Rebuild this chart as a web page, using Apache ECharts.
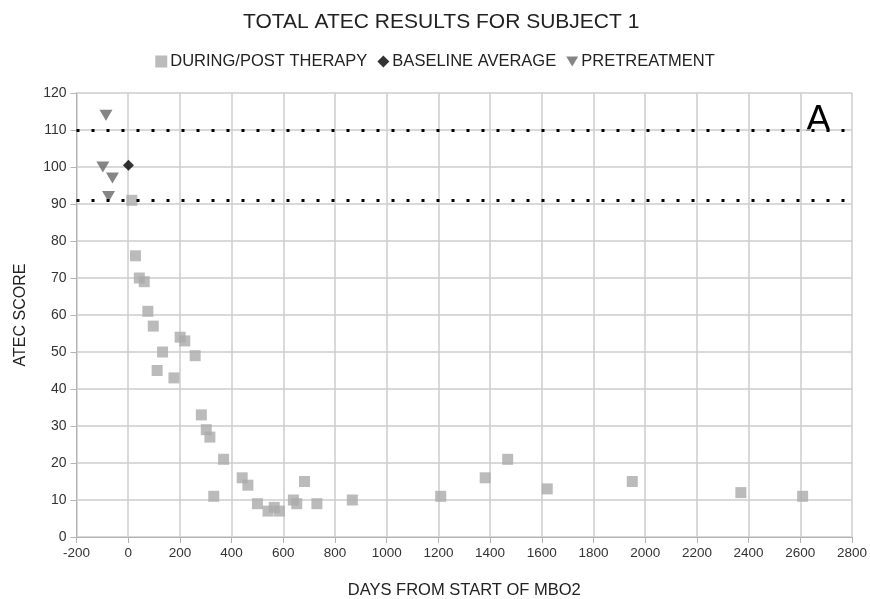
<!DOCTYPE html>
<html>
<head>
<meta charset="utf-8">
<script src="https://cdn.jsdelivr.net/npm/echarts@6/dist/echarts.min.js"></script>
<style>
  html, body { margin: 0; padding: 0; background: #fff; }
  #chart { width: 870px; height: 599px; }
</style>
</head>
<body>
<div id="chart"></div>
<script>
// Days from start of MBO2 and total ATEC score for each assessment
const therapyDays   = [14, 28, 43, 62, 76, 97, 112, 133, 177, 201, 219, 259, 283, 302, 316, 331, 369, 441, 463, 500, 541, 565, 585, 639, 652, 682, 730, 867, 1209, 1381, 1468, 1621, 1950, 2370, 2609];
const therapyScores = [91, 76, 70, 69, 61, 57, 45, 50, 43, 54, 53, 49, 33, 29, 27, 11, 21, 16, 14, 9, 7, 8, 7, 10, 9, 15, 9, 10, 11, 16, 21, 13, 15, 12, 11];

const baselineDays   = [1];
const baselineScores = [100.5];

const pretreatDays   = [-86, -98, -61, -76];
const pretreatScores = [114, 100, 97, 92];

// Dotted reference levels
const referenceLevels = [110, 91];

const xTicks = { min: -200, max: 2800, interval: 200 };
const yTicks = { min: 0, max: 120, interval: 10 };

const pairs = (xs, ys) => xs.map((x, i) => [x, ys[i]]);

const chart = echarts.init(document.getElementById('chart'));
const fontFamily = '"Liberation Sans", Arial, sans-serif';
const downTriangle = 'path://M0,0L12,0L6,10Z';

chart.setOption({
  backgroundColor: '#ffffff',
  textStyle: { fontFamily },
  title: {
    text: 'TOTAL ATEC RESULTS FOR SUBJECT 1',
    left: 238,
    top: 7,
    textStyle: { fontSize: 21, fontWeight: 'normal', color: '#222', fontFamily }
  },
  legend: {
    top: 48,
    left: 'center',
    itemGap: 10,
    itemWidth: 12,
    itemHeight: 12,
    textStyle: { fontSize: 16.5, color: '#222', fontFamily, padding: [0, 0, 0, -2] },
    data: [
      { name: 'DURING/POST THERAPY', icon: 'rect' },
      { name: 'BASELINE AVERAGE', icon: 'diamond' },
      { name: 'PRETREATMENT', icon: downTriangle }
    ]
  },
  graphic: [{
    type: 'text',
    left: 806,
    top: 102,
    style: { text: 'A', fontSize: 37, fill: '#000', fontFamily }
  }],
  grid: { left: 76.5, right: 18, top: 93, bottom: 62, containLabel: false, outerBoundsMode: 'none' },
  xAxis: {
    type: 'value',
    min: xTicks.min, max: xTicks.max, interval: xTicks.interval,
    name: 'DAYS FROM START OF MBO2',
    nameLocation: 'middle',
    nameGap: 45,
    nameTextStyle: { fontSize: 16.5, color: '#222' },
    axisLine: { show: true, onZero: false, lineStyle: { color: '#b3b3b3' } },
    axisTick: { show: true, length: 6, lineStyle: { color: '#b3b3b3' } },
    axisLabel: { fontSize: 13.5, color: '#333', margin: 9, formatter: v => String(v) },
    splitLine: { show: true, lineStyle: { color: '#cccccc', width: 1.5 } }
  },
  yAxis: {
    type: 'value',
    min: yTicks.min, max: yTicks.max, interval: yTicks.interval,
    name: 'ATEC SCORE',
    nameLocation: 'middle',
    nameGap: 48,
    nameTextStyle: { fontSize: 16, color: '#222' },
    axisLine: { show: true, onZero: false, lineStyle: { color: '#b3b3b3' } },
    axisTick: { show: true, length: 6, lineStyle: { color: '#b3b3b3' } },
    axisLabel: { fontSize: 14, color: '#333', margin: 10 },
    splitLine: { show: true, lineStyle: { color: '#cccccc', width: 1.5 } }
  },
  series: [
    {
      name: 'DURING/POST THERAPY',
      type: 'scatter',
      symbol: 'rect',
      symbolSize: 11,
      itemStyle: { color: '#aaaaaa' },
      data: pairs(therapyDays, therapyScores),
      markLine: {
        silent: true,
        symbol: 'none',
        label: { show: false },
        lineStyle: { color: '#000', width: 3, type: [3, 12], cap: 'butt' },
        data: referenceLevels.map(v => ({ yAxis: v }))
      },
      z: 3
    },
    {
      name: 'BASELINE AVERAGE',
      type: 'scatter',
      symbol: 'diamond',
      symbolSize: 11,
      itemStyle: { color: '#000000' },
      data: pairs(baselineDays, baselineScores),
      z: 4
    },
    {
      name: 'PRETREATMENT',
      type: 'scatter',
      symbol: downTriangle,
      symbolSize: [13, 11],
      itemStyle: { color: '#666666' },
      data: pairs(pretreatDays, pretreatScores),
      z: 4
    }
  ]
});
</script>
</body>
</html>
